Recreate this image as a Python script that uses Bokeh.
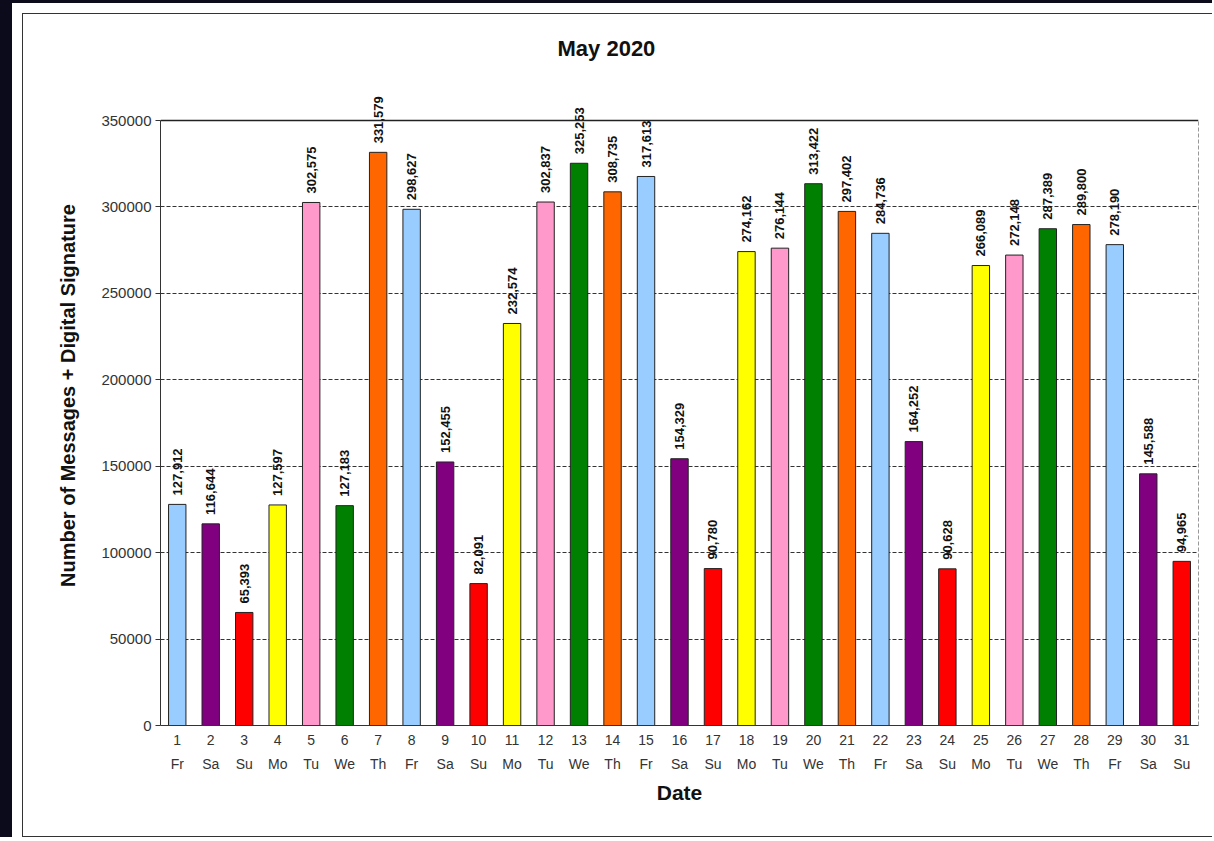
import math
from bokeh.plotting import figure
from bokeh.layouts import column
from bokeh.models import (ColumnDataSource, Range1d, FixedTicker, LinearAxis, LabelSet, Span)
from bokeh.core.properties import value
from bokeh.embed import file_html
from bokeh.resources import INLINE

# ---- data ----
dates = list(range(1, 32))
weekdays = ["Fr", "Sa", "Su", "Mo", "Tu", "We", "Th",
            "Fr", "Sa", "Su", "Mo", "Tu", "We", "Th",
            "Fr", "Sa", "Su", "Mo", "Tu", "We", "Th",
            "Fr", "Sa", "Su", "Mo", "Tu", "We", "Th",
            "Fr", "Sa", "Su"]
messages = [127912, 116644, 65393, 127597, 302575, 127183, 331579,
            298627, 152455, 82091, 232574, 302837, 325253, 308735,
            317613, 154329, 90780, 274162, 276144, 313422, 297402,
            284736, 164252, 90628, 266089, 272148, 287389, 289800,
            278190, 145588, 94965]
day_colors = {"Fr": "#99CCFF", "Sa": "#800080", "Su": "#FF0000", "Mo": "#FFFF00",
              "Tu": "#FF99CC", "We": "#008000", "Th": "#FF6600"}
y_ticks = [0, 50000, 100000, 150000, 200000, 250000, 300000, 350000]
title_text = "May 2020"
y_title = "Number of Messages + Digital Signature"
x_title = "Date"

source = ColumnDataSource(dict(
    date=dates,
    day=weekdays,
    messages=messages,
    color=[day_colors[d] for d in weekdays],
    label=[f"{v:,}" for v in messages],
))

# layout (pixels)
FRAME_TOP, AXIS_TOP, AXIS_BOTTOM = 65, 120, 725
y_axis_max = y_ticks[-1]
# the frame extends above the top tick so value labels above the bars stay visible
y_range_top = y_axis_max * (AXIS_BOTTOM - FRAME_TOP) / (AXIS_BOTTOM - AXIS_TOP)

p = figure(width=1190, height=824, output_backend="svg", toolbar_location=None,
           x_range=Range1d(0.5, 31.5), y_range=Range1d(0, y_range_top),
           min_border_left=137, min_border_right=15, min_border_top=FRAME_TOP - 14,
           min_border_bottom=113)
p.background_fill_color = "white"
p.border_fill_color = "white"
p.outline_line_color = None
p.margin = (0, 0, 0, 0)
p.styles = {"border-left": "1.5px solid #333333", "border-top": "1.5px solid #333333",
            "border-bottom": "1.5px solid #333333"}

p.title.text = title_text
p.title.align = "left"
p.title.offset = 397
p.title.text_font = "Liberation Sans"
p.title.text_font_style = "bold"
p.title.text_font_size = "22px"
p.title.text_color = "#111111"

p.vbar(x="date", top="messages", width=0.52, source=source,
       fill_color="color", line_color="#222222", line_width=1)

# labels above bars
labels = LabelSet(x="date", y="messages", text="label", source=source,
                  angle=math.pi / 2, text_align="left", text_baseline="middle",
                  y_offset=9, text_font=value("Liberation Sans"),
                  text_font_style="bold", text_font_size="13px", text_color="#111111")
p.add_layout(labels)

# y axis
yax = p.yaxis[0]
yax.ticker = FixedTicker(ticks=y_ticks)
yax.bounds = (0, y_axis_max)
yax.formatter.use_scientific = False
yax.major_label_text_font = "Liberation Sans"
yax.major_label_text_font_size = "15px"
yax.major_label_text_color = "#333333"
yax.major_tick_out = 5
yax.major_tick_in = 0
yax.minor_tick_line_color = None
yax.axis_line_color = "#333333"
yax.major_tick_line_color = "#333333"
yax.major_label_standoff = 4
yax.axis_label = y_title
yax.axis_label_text_font = "Liberation Sans"
yax.axis_label_text_font_style = "bold"
yax.axis_label_text_font_size = "20px"
yax.axis_label_text_color = "#111111"
yax.axis_label_standoff = 19

# x axis: day numbers
xax = p.xaxis[0]
xax.ticker = FixedTicker(ticks=dates)
xax.major_label_text_font = "Liberation Sans"
xax.major_label_text_font_size = "14px"
xax.major_label_text_color = "#333333"
xax.major_tick_out = 0
xax.major_tick_in = 0
xax.minor_tick_line_color = None
xax.axis_line_color = "#333333"
xax.major_label_standoff = 9

# x axis: weekdays
xax2 = LinearAxis(ticker=FixedTicker(ticks=dates),
                  major_label_overrides={d: w for d, w in zip(dates, weekdays)})
xax2.major_label_text_font = "Liberation Sans"
xax2.major_label_text_font_size = "14px"
xax2.major_label_text_color = "#333333"
xax2.major_tick_out = 0
xax2.major_tick_in = 0
xax2.minor_tick_line_color = None
xax2.axis_line_color = None
xax2.major_label_standoff = 8
xax2.axis_label = x_title
xax2.axis_label_text_font = "Liberation Sans"
xax2.axis_label_text_font_style = "bold"
xax2.axis_label_text_font_size = "21px"
xax2.axis_label_text_color = "#111111"
xax2.axis_label_standoff = 6
p.add_layout(xax2, "below")

# grid
p.xgrid.grid_line_color = None
p.ygrid.ticker = FixedTicker(ticks=y_ticks)
p.ygrid.grid_line_color = "#333333"
p.ygrid.grid_line_dash = "4 2"
p.ygrid.grid_line_width = 1

# plot-area top (solid) and right (dashed) borders
p.add_layout(Span(location=y_axis_max, dimension="width", line_color="#222222", line_width=1.5))
p.segment(x0=[p.x_range.end], x1=[p.x_range.end], y0=[0], y1=[y_axis_max],
          line_color="#333333", line_dash="4 2", line_width=1)

inner = column(p, styles={"background-color": "white", "padding": "10px 0px 0px 10px"},
               margin=(3, 0, 0, 12))
outer = column(inner, styles={"background-color": "#0b0b1c"})

open("out.html", "w").write(file_html(outer, INLINE))
